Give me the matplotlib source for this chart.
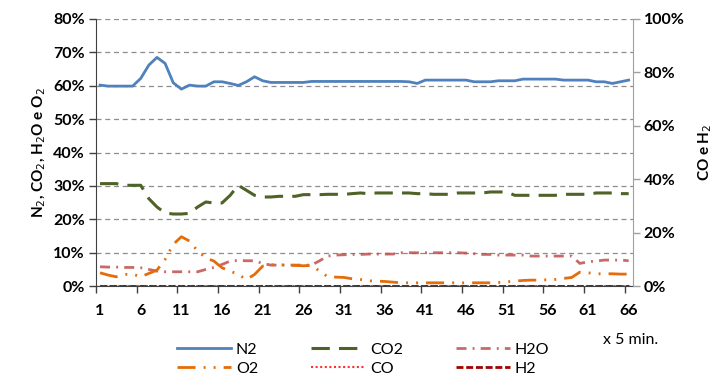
import numpy as np
import matplotlib
matplotlib.use("Agg")
import matplotlib.pyplot as plt
from matplotlib.ticker import FixedLocator, FuncFormatter

plt.rcParams['font.family'] = ['Lato', 'DejaVu Sans']

# dados (%), um ponto a cada 5 min
amostras = np.arange(1, 67)

n2 = [60.2, 59.9, 59.9, 59.9, 59.9, 62.2, 66.2, 68.5, 66.7, 60.9,
      59.0, 60.2, 59.9, 59.9, 61.2, 61.2, 60.7, 60.1, 61.2, 62.7,
      61.5, 61.0, 61.0, 61.0, 61.0, 61.0, 61.3, 61.3, 61.3, 61.3,
      61.3, 61.3, 61.3, 61.3, 61.3, 61.3, 61.3, 61.3, 61.2, 60.7,
      61.7, 61.7, 61.7, 61.7, 61.7, 61.7, 61.2, 61.2, 61.2, 61.5,
      61.5, 61.5, 62.0, 62.0, 62.0, 62.0, 62.0, 61.7, 61.7, 61.7,
      61.7, 61.2, 61.2, 60.7, 61.2, 61.7]

co2 = [30.7, 30.7, 30.7, 30.2, 30.2, 30.2, 26.2, 23.7, 21.9, 21.6,
       21.6, 21.8, 23.7, 25.2, 24.9, 24.9, 27.2, 30.2, 28.7, 27.2,
       26.7, 26.7, 26.9, 26.9, 26.9, 27.4, 27.4, 27.4, 27.5, 27.5,
       27.5, 27.7, 27.9, 27.7, 27.9, 27.9, 27.9, 27.9, 27.9, 27.7,
       27.7, 27.5, 27.5, 27.5, 27.9, 27.9, 27.9, 27.9, 28.2, 28.2,
       28.2, 27.2, 27.2, 27.2, 27.2, 27.2, 27.2, 27.5, 27.5, 27.5,
       27.5, 27.9, 27.9, 27.9, 27.7, 27.7]

h2o = [5.8, 5.7, 5.7, 5.6, 5.6, 5.5, 5.0, 4.5, 4.3, 4.3,
       4.3, 4.3, 4.3, 5.0, 5.6, 6.5, 7.5, 7.7, 7.6, 7.6,
       6.8, 6.3, 6.3, 6.3, 6.3, 6.3, 6.3, 7.6, 9.0, 9.3,
       9.4, 9.5, 9.5, 9.6, 9.6, 9.6, 9.6, 10.0, 10.0, 10.0,
       10.0, 10.0, 10.0, 10.0, 10.0, 9.9, 9.7, 9.5, 9.5, 9.3,
       9.3, 9.3, 9.3, 9.0, 9.0, 9.0, 9.0, 9.0, 9.0, 6.8,
       7.3, 7.5, 7.8, 7.8, 7.8, 7.6]

o2 = [4.0, 3.3, 2.8, 3.5, 3.6, 2.8, 3.8, 4.8, 8.0, 12.5,
      14.8, 13.5, 10.5, 8.5, 7.5, 5.5, 4.5, 3.5, 2.0, 3.5,
      6.0, 6.4, 6.4, 6.3, 6.2, 6.1, 6.2, 4.5, 2.8, 2.7,
      2.6, 2.2, 2.0, 1.6, 1.5, 1.4, 1.2, 1.0, 1.0, 1.0,
      1.0, 1.0, 1.0, 1.0, 1.0, 1.0, 1.0, 1.0, 1.0, 1.1,
      1.3, 1.5, 1.7, 1.8, 1.8, 1.9, 2.0, 2.3, 2.6, 4.2,
      4.0, 3.7, 3.7, 3.7, 3.6, 3.6]

co = [0.0] * 66
h2 = [0.0] * 66

fig = plt.figure(figsize=(7.19, 3.8), dpi=100)
ax = fig.add_axes([0.1335, 0.247, 0.7465, 0.703])
ax2 = ax.twinx()

# eixo principal
l_n2, = ax.plot(amostras, n2, color='#4F81BD', lw=2)
l_co2, = ax.plot(amostras, co2, color='#4F6228', lw=2.2, dashes=(6, 3))
l_h2o, = ax.plot(amostras, h2o, color='#C0504D', lw=2, dashes=(3.6, 2.2, 0.7, 2.2), alpha=0.85)
l_o2, = ax.plot(amostras, o2, color='#E46C0A', lw=2, dashes=(6.5, 2.9, 0.7, 2.9, 0.7, 2.9))

# eixo secundário
l_co, = ax2.plot(amostras, co, color='#FF3030', lw=1.5, dashes=(1, 1.2))
l_h2, = ax2.plot(amostras, h2, color='#A00000', lw=2, dashes=(2.5, 1))

ax.set_xlim(0.5, 66.5)
ax.set_ylim(0, 80)
ax2.set_ylim(0, 100)

ax.set_yticks(np.arange(0, 81, 10))
ax2.set_yticks(np.arange(0, 101, 20))
ax.yaxis.set_major_formatter(FuncFormatter(lambda v, p: '%d%%' % v))
ax2.yaxis.set_major_formatter(FuncFormatter(lambda v, p: '%d%%' % v))

ax.set_xticks(np.arange(1, 67, 5))
ax.xaxis.set_minor_locator(FixedLocator(np.arange(0.5, 66, 5)))
ax.tick_params(axis='x', which='major', length=0, pad=13, labelsize=11.5)
ax.tick_params(axis='x', which='minor', length=5, width=1, color='#404040')
ax.tick_params(axis='y', length=5, width=1, color='#404040', labelsize=11.5, pad=3)
ax2.tick_params(axis='y', length=5, width=1, color='#A0A0A0', labelsize=11.5, pad=3)
for lbl in ax.get_xticklabels() + ax.get_yticklabels() + ax2.get_yticklabels():
    lbl.set_fontweight('bold')

ax.grid(axis='y', color='#8C8C8C', ls=(0, (4, 3)), lw=0.9)
ax.set_axisbelow(True)

for s in ['top', 'right']:
    ax.spines[s].set_visible(False)
ax2.spines['top'].set_visible(False)
ax2.spines['left'].set_visible(False)
ax2.spines['bottom'].set_visible(False)
ax2.spines['right'].set_color('#A0A0A0')
ax.spines['left'].set_color('#404040')
ax.spines['bottom'].set_color('#404040')

ax.set_ylabel('N$_2$, CO$_2$, H$_2$O e O$_2$', fontsize=11, fontweight='bold', labelpad=4)
ax2.set_ylabel('CO e H$_2$', fontsize=11, fontweight='bold', labelpad=8)

fig.text(0.877, 0.105, 'x 5 min.', fontsize=11.5, ha='center', va='center')

fig.legend([l_n2, l_o2, l_co2, l_co, l_h2o, l_h2],
           ['N2', 'O2', 'CO2', 'CO', 'H2O', 'H2'],
           ncol=3, loc='center', bbox_to_anchor=(0.505, 0.054),
           frameon=False, fontsize=11.5, handlelength=3.4,
           columnspacing=3.3, handletextpad=0.3, labelspacing=0.3)

fig.savefig('out.png', dpi=100)
